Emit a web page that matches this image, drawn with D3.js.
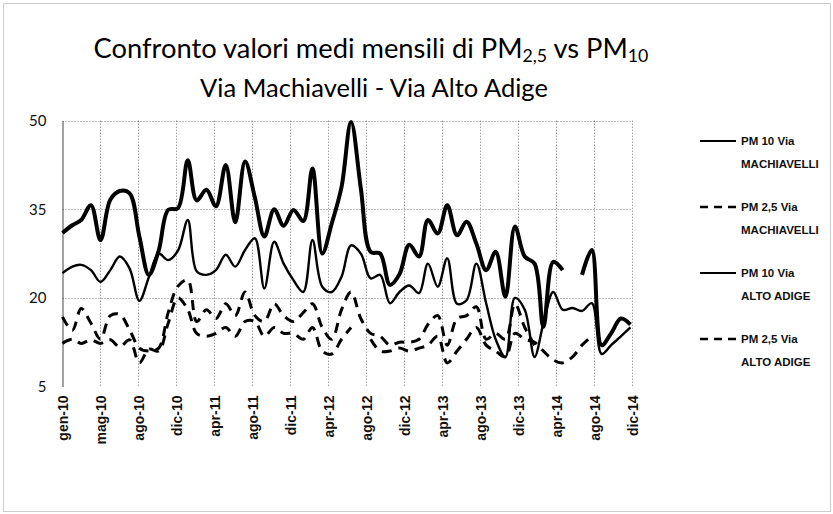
<!DOCTYPE html>
<html>
<head>
<meta charset="utf-8">
<script src="https://cdn.jsdelivr.net/npm/d3@7"></script>
<style>
  body { margin: 0; background: #fff; }
  svg { display: block; }
</style>
</head>
<body>
<div id="chart"></div>
<script>
// monthly means, gen-10 .. dic-14 (60 months)
var monthNames = ["gen", "feb", "mar", "apr", "mag", "giu", "lug", "ago", "set", "ott", "nov", "dic"];
var tickLabels = ["gen-10", "mag-10", "ago-10", "dic-10", "apr-11", "ago-11", "dic-11", "apr-12",
                  "ago-12", "dic-12", "apr-13", "ago-13", "dic-13", "apr-14", "ago-14", "dic-14"];
var yTicks = [5, 20, 35, 50];

var pm10Machiavelli = [31, 32.3, 33.2, 35.7, 29.8, 36.6, 38.1, 37.7, 30.4, 23.9, 28, 34.9,
    35.2, 43.3, 36.5, 38.3, 35.5, 42.5, 32.8, 43.1, 37, 30.4, 35, 32.2,
    34.9, 33, 41.9, 27.5, 32.6, 38.8, 49.8, 38.5, 27.8, 27.5, 22.2, 24,
    29, 27, 33.2, 30.9, 35.7, 30.6, 32.9, 29.2, 24.7, 27.8, 20.2, 32.1,
    27, 25.8, 15.1, 26.1, 24.7, null, 23.9, 28.1, 12, 14, 16.5, 15.5];

var pm25Machiavelli = [16.8, 14.5, 18.2, 15.7, 13, 17, 17.2, 14.6, 11.5, 11, 11.5, 17.5,
    22, 23, 16, 18, 16.5, 19, 17, 21, 17, 16, 19, 17,
    16, 17.5, 19, 15, 13, 18, 21, 16.5, 14, 13.5, 12, 12.5,
    12.5, 13, 15.5, 17, 12, 16.5, 17, 18.5, 13, 14, 13, 19,
    15, 12, null, null, null, null, null, null, null, null, null, null];

var pm10AltoAdige = [24.2, 25.3, 25.6, 24.7, 22.7, 24.7, 27, 25, 19.5, 23.5, 27.5, 26.4,
    28, 33.2, 24.5, 23.9, 24.7, 27.3, 25.3, 28.1, 30.1, 21.6, 29.5, 25.8,
    23, 21, 29.8, 21.9, 21, 23.6, 28.9, 27.5, 23.3, 23.9, 19.1, 21,
    22.1, 20.8, 25.8, 21.9, 26.7, 19, 19.6, 25.8, 19.1, 13, 10, 20,
    18, 10, 15.7, 21, 18, 18.3, 17.8, 19.1, 10.5, 12, 13.5, 15];

var pm25AltoAdige = [12.3, 13, 12.3, 12.9, 12.3, 12.9, 11.7, 12.9, 9, 11.3, 11, 15.7,
    20, 18, 14, 13.5, 14, 15, 13.5, 16, 16, 13.5, 15, 14,
    14, 13, 15, 11, 10.5, 13, 15, null, 13, 11, 11, 11.5,
    11, 11.5, 12, 13.5, 9, 11, 13, 15, 12, 11, 10, 14,
    13, 12.5, 11, 9.5, 9, 10, 12, 13.5, null, null, null, null];

var legendLabels = [["PM 10 Via", "MACHIAVELLI"], ["PM 2,5 Via", "MACHIAVELLI"],
                    ["PM 10 Via", "ALTO ADIGE"], ["PM 2,5 Via", "ALTO ADIGE"]];

var width = 833, height = 514;
var start = new Date(Date.UTC(2010, 0, 1));

var svg = d3.select("#chart").append("svg")
    .attr("width", width)
    .attr("height", height);

// outer dotted frame
svg.append("rect")
    .attr("x", 3.5).attr("y", 3.5)
    .attr("width", width - 6).attr("height", height - 6)
    .attr("fill", "none")
    .attr("stroke", "#999")
    .attr("stroke-dasharray", "1,1");

var x = d3.scaleUtc()
    .domain([start, d3.utcDay.offset(start, 1800)])
    .range([62.5, 632]);
var y = d3.scaleLinear().domain([5, 50]).range([386.5, 120.7]);

// major unit of the date axis: 120 days
var tickDates = tickLabels.map(function (d, i) { return d3.utcDay.offset(start, i * 120); });

// grid
var grid = svg.append("g");
grid.selectAll(".vgrid")
    .data(tickDates.slice(1))
    .enter().append("line")
    .attr("x1", function (d) { return Math.round(x(d)) + 0.5; })
    .attr("x2", function (d) { return Math.round(x(d)) + 0.5; })
    .attr("y1", y(50)).attr("y2", y(5))
    .attr("stroke", "#777")
    .attr("stroke-dasharray", "1,2");
grid.selectAll(".hgrid")
    .data(yTicks.slice(1))
    .enter().append("line")
    .attr("x1", x.range()[0]).attr("x2", x.range()[1])
    .attr("y1", function (d) { return Math.round(y(d)) + 0.5; })
    .attr("y2", function (d) { return Math.round(y(d)) + 0.5; })
    .attr("stroke", "#777")
    .attr("stroke-dasharray", "1,2");

// y axis
var yAxis = svg.append("g")
    .attr("transform", "translate(62.5,0)")
    .call(d3.axisLeft(y).tickValues(yTicks).tickSize(0).tickPadding(16));
yAxis.select(".domain").attr("stroke", "#444");
yAxis.selectAll("text")
    .style("font-family", "Lato, 'Open Sans', sans-serif")
    .style("font-size", "15px")
    .attr("fill", "#111");

// x axis
var xAxis = svg.append("g")
    .attr("transform", "translate(0,386.5)")
    .call(d3.axisBottom(x).tickValues(tickDates).tickSize(0)
        .tickFormat(function (d, i) { return tickLabels[i]; }));
xAxis.select(".domain").remove();
xAxis.selectAll("text")
    .attr("transform", "rotate(-90)")
    .attr("text-anchor", "end")
    .attr("x", -9)
    .attr("y", 0)
    .attr("dy", "0.38em")
    .style("font-family", "'Liberation Sans', Arial, sans-serif")
    .style("font-weight", "bold")
    .style("font-size", "14px")
    .attr("fill", "#111");

// series
var series = [
    { values: pm25AltoAdige, width: 3, dash: "10,7" },
    { values: pm25Machiavelli, width: 3, dash: "10,7" },
    { values: pm10AltoAdige, width: 2.4, dash: null },
    { values: pm10Machiavelli, width: 4, dash: null }
];

var line = d3.line()
    .defined(function (d) { return d.v != null; })
    .x(function (d) { return x(d.date); })
    .y(function (d) { return y(d.v); })
    .curve(d3.curveCatmullRom.alpha(0.5));

series.forEach(function (s) {
    var pts = s.values.map(function (v, i) {
        return { date: d3.utcMonth.offset(start, i), v: v };
    });
    svg.append("path")
        .datum(pts)
        .attr("d", line)
        .attr("fill", "none")
        .attr("stroke", "#000")
        .attr("stroke-width", s.width)
        .attr("stroke-linejoin", "round")
        .attr("stroke-dasharray", s.dash);
});

// title
var title = svg.append("g").attr("font-family", "Lato, 'Open Sans', sans-serif").attr("fill", "#000");
var t1 = title.append("text").attr("x", 371).attr("y", 58).attr("text-anchor", "middle").style("font-size", "28px");
t1.append("tspan").text("Confronto valori medi mensili di PM");
t1.append("tspan").attr("font-size", "0.65em").attr("baseline-shift", "-22%").text("2,5");
t1.append("tspan").text(" vs PM");
t1.append("tspan").attr("font-size", "0.65em").attr("baseline-shift", "-22%").text("10");
var t2 = title.append("text").attr("x", 374).attr("y", 97).attr("text-anchor", "middle").style("font-size", "28px")
    .text("Via Machiavelli - Via Alto Adige");

function fitWidth(sel, target) {
    var w = sel.node().getComputedTextLength();
    var fs = parseFloat(sel.style("font-size"));
    sel.style("font-size", (fs * target / w) + "px");
}
fitWidth(t1, 555);
fitWidth(t2, 348);

// legend
var legendY = [141, 207, 273, 339];
var legendStyle = [series[3], series[1], series[2], series[0]];
var legend = svg.selectAll(".legend")
    .data(legendLabels)
    .enter().append("g")
    .attr("transform", function (d, i) { return "translate(700," + legendY[i] + ")"; });

legend.append("line")
    .attr("x1", 0).attr("x2", 36)
    .attr("stroke", "#000")
    .attr("stroke-width", function (d, i) { return legendStyle[i].dash ? 2.5 : 1.8; })
    .attr("stroke-dasharray", function (d, i) { return legendStyle[i].dash ? "8,6" : null; });

legend.append("text")
    .attr("x", 41)
    .attr("dy", "0.35em")
    .style("font-family", "'Liberation Sans', Arial, sans-serif")
    .style("font-size", "11.5px")
    .style("font-weight", "bold")
    .attr("fill", "#111")
    .text(function (d) { return d[0]; });
legend.append("text")
    .attr("x", 41)
    .attr("y", 23)
    .attr("dy", "0.35em")
    .style("font-family", "'Liberation Sans', Arial, sans-serif")
    .style("font-size", "11.5px")
    .style("font-weight", "bold")
    .attr("fill", "#111")
    .text(function (d) { return d[1]; });
</script>
</body>
</html>
